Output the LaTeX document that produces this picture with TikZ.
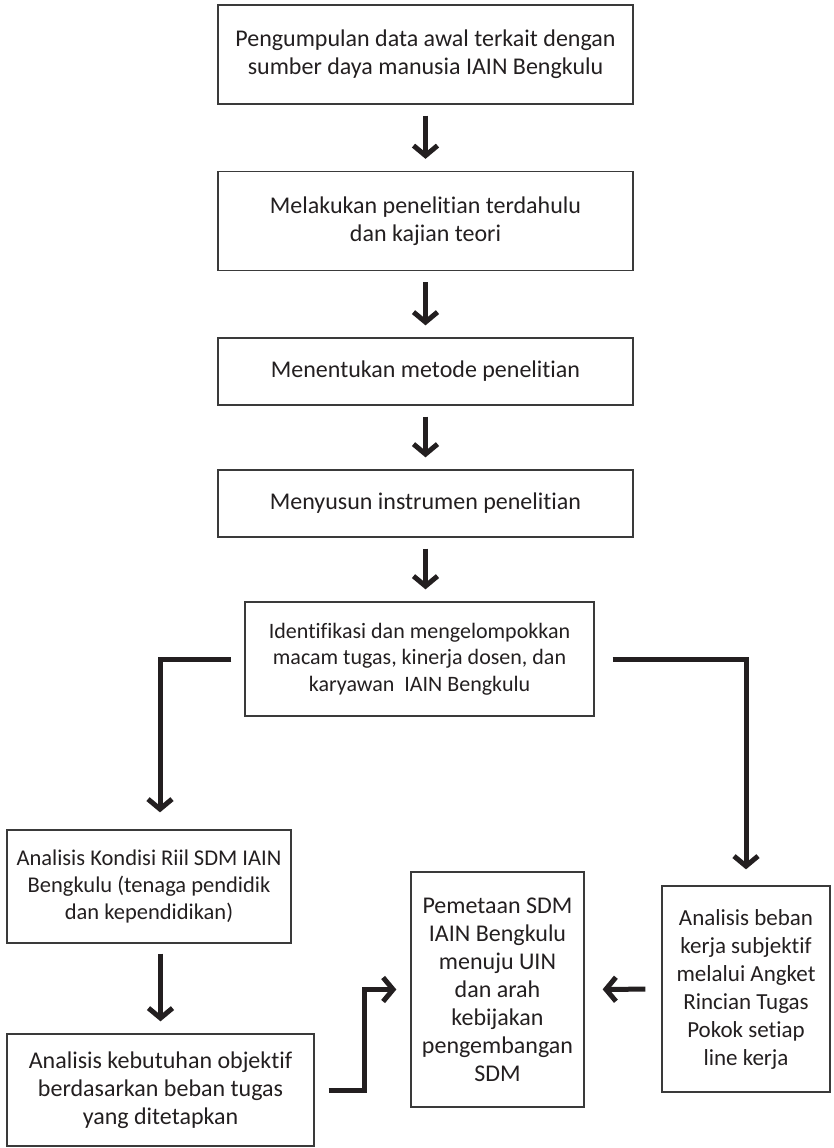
\documentclass[tikz,border=0pt]{standalone}
\usepackage{fontspec}
\setmainfont{Carlito}[Ligatures={NoCommon,NoContextual}]
\usetikzlibrary{positioning,arrows.meta}
\definecolor{ink}{HTML}{231F20}
\definecolor{frame}{HTML}{3A3A3A}

\begin{document}
\begin{tikzpicture}[x=1pt,y=-1pt,font=\fontsize{24}{28}\selectfont,
  box/.style={draw=frame,line width=1.3pt,text=ink,align=center,inner sep=0pt},
  arr/.style={draw=ink,line width=5pt,-{Straight Barb[length=10pt,width=24pt]}},
  gap/.style={shorten <=11pt,shorten >=12pt}]
  \useasboundingbox (0,0) rectangle (834,1148);

  \node[box,minimum width=415pt,minimum height=99pt] (b1) at (425.5,54.5)
    {Pengumpulan data awal terkait dengan\\sumber daya manusia IAIN Bengkulu};
  \node[box,minimum width=415pt,minimum height=99pt] (b2) at (425.5,221)
    {Melakukan penelitian terdahulu\\dan kajian teori};
  \node[box,minimum width=415pt,minimum height=67pt] (b3) at (425.5,371.5)
    {Menentukan metode penelitian};
  \node[box,minimum width=415pt,minimum height=67pt] (b4) at (425.5,503.5)
    {Menyusun instrumen penelitian};
  \node[box,minimum width=349pt,minimum height=114pt,font=\fontsize{22}{26.5}\selectfont] (b5) at (419.5,659)
    {Identifikasi dan mengelompokkan\\macam tugas, kinerja dosen, dan\\karyawan\ \ IAIN Bengkulu};
  \node[box,minimum width=284pt,minimum height=113pt,font=\fontsize{22.5}{27}\selectfont] (b6) at (149,886.5)
    {Analisis Kondisi Riil SDM IAIN\\Bengkulu (tenaga pendidik\\dan kependidikan)};
  \node[box,minimum width=173pt,minimum height=235pt] (b8) at (497.5,989.5)
    {Pemetaan SDM\\IAIN Bengkulu\\menuju UIN\\dan arah\\kebijakan\\pengembangan\\SDM};
  \node[box,minimum width=168pt,minimum height=206pt,font=\fontsize{23}{28}\selectfont] (b7) at (746,989)
    {Analisis beban\\kerja subjektif\\melalui Angket\\Rincian Tugas\\Pokok setiap\\line kerja};
  \node[box,minimum width=307pt,minimum height=112pt] (b9) at (160.5,1090)
    {Analisis kebutuhan objektif\\berdasarkan beban tugas\\yang ditetapkan};

  \draw[arr,gap] (b1) -- (b2);
  \draw[arr,gap] (b2) -- (b3);
  \draw[arr,gap] (b3) -- (b4);
  \draw[arr,gap] (b4.south) -- (b4.south |- b5.north);
  \draw[arr,shorten <=13pt,shorten >=17pt] (b5.west) -| ([xshift=11pt]b6.north);
  \draw[arr,shorten <=18pt,shorten >=16pt] (b5.east) -| (b7.north);
  \draw[arr,shorten <=10pt,shorten >=12pt] (b9.north |- b6.south) -- (b9.north);
  \draw[arr,shorten <=14pt,shorten >=14pt] (b9.east) -- ++(50,0) |- (b8.west);
  \draw[arr,shorten <=16pt,shorten >=18pt] (b7) -- (b8);
\end{tikzpicture}
\end{document}
